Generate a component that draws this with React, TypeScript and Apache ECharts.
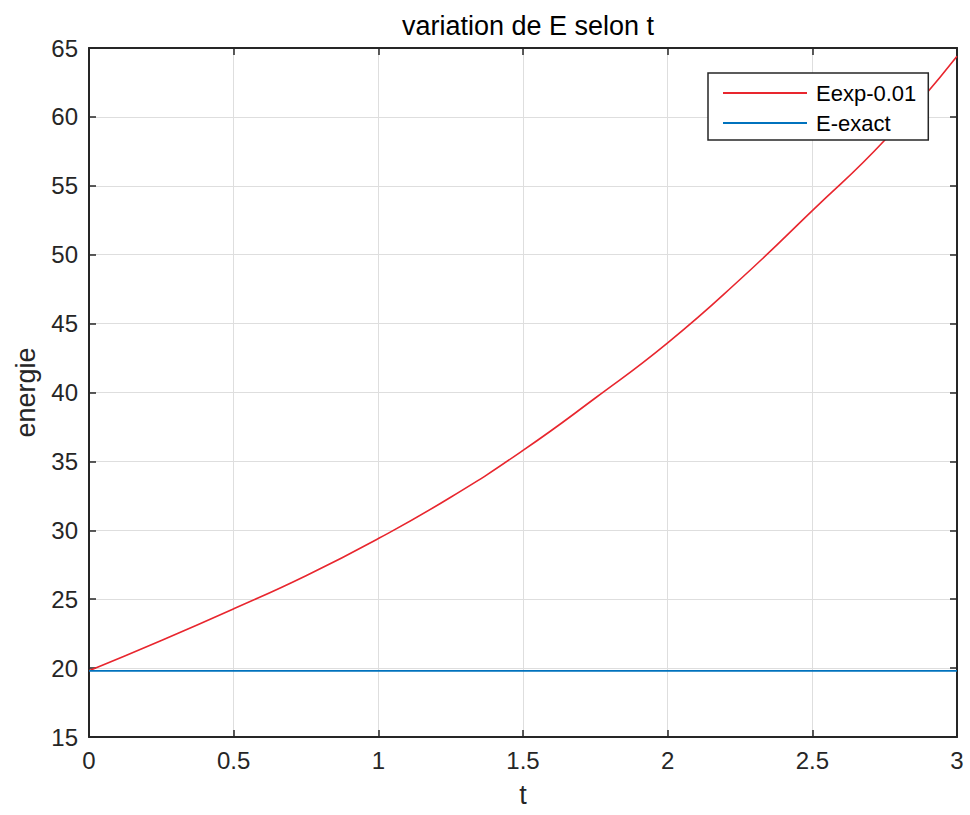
import React, { useEffect, useRef } from "react";
import * as echarts from "echarts";

const titleText = "variation de E selon t";
const xName = "t";
const yName = "energie";
const tValues = [0, 0.25, 0.5, 0.75, 1, 1.25, 1.5, 1.75, 2, 2.25, 2.5, 2.75, 3];
const eExp = [19.8, 22.0, 24.3, 26.7, 29.4, 32.4, 35.8, 39.6, 43.6, 48.2, 53.2, 58.3, 64.4];
const eExactT = [0, 3];
const eExact = [19.8, 19.8];
const seriesNames = ["Eexp-0.01", "E-exact"];

const FONT = "'Liberation Sans', Arial, Helvetica, sans-serif";
const AX = "#262626";

export default function App() {
  const ref = useRef<HTMLDivElement>(null);
  useEffect(() => {
    if (!ref.current) return;
    const chart = echarts.init(ref.current, null, { renderer: "svg" });
    const boxAxis = (extra: any) => ({
      type: "value",
      axisLine: { show: true, onZero: false, lineStyle: { color: AX, width: 2 } },
      axisTick: { show: true, inside: true, length: 7, lineStyle: { color: AX, width: 1.5 } },
      axisLabel: { show: false },
      splitLine: { show: false },
      ...extra,
    });
    chart.setOption({
      animation: false,
      backgroundColor: "#ffffff",
      textStyle: { fontFamily: FONT },
      title: {
        text: titleText,
        left: 523,
        top: 7,
        textAlign: "center",
        textStyle: { fontFamily: FONT, fontSize: 27, fontWeight: "normal", color: "#000" },
      },
      legend: {
        orient: "vertical",
        left: 708,
        top: 73,
        padding: [9, 12, 6, 15],
        itemGap: 8,
        itemWidth: 84,
        itemHeight: 2,
        icon: "rect",
        borderColor: AX,
        borderWidth: 1.5,
        backgroundColor: "#fff",
        textStyle: { fontFamily: FONT, fontSize: 22, color: "#000", padding: [0, 0, 0, 4] },
        data: seriesNames,
      },
      grid: { left: 89, right: 13, top: 48, bottom: 78, containLabel: false },
      xAxis: [
        {
          type: "value",
          min: 0,
          max: 3,
          interval: 0.5,
          name: xName,
          nameLocation: "middle",
          nameGap: 44,
          nameTextStyle: { fontFamily: FONT, fontSize: 27, color: AX },
          axisLine: { show: true, onZero: false, lineStyle: { color: AX, width: 2 } },
          axisTick: { show: true, inside: true, length: 7, lineStyle: { color: AX, width: 1.5 } },
          axisLabel: { fontFamily: FONT, fontSize: 24, color: AX, margin: 11 },
          splitLine: { show: true, lineStyle: { color: "#dedede", width: 1 } },
        },
        boxAxis({ position: "top", min: 0, max: 3, interval: 0.5 }),
      ],
      yAxis: [
        {
          type: "value",
          min: 15,
          max: 65,
          interval: 5,
          name: yName,
          nameLocation: "middle",
          nameGap: 50,
          nameTextStyle: { fontFamily: FONT, fontSize: 27, color: AX },
          axisLine: { show: true, onZero: false, lineStyle: { color: AX, width: 2 } },
          axisTick: { show: true, inside: true, length: 7, lineStyle: { color: AX, width: 1.5 } },
          axisLabel: { fontFamily: FONT, fontSize: 24, color: AX, margin: 11 },
          splitLine: { show: true, lineStyle: { color: "#dedede", width: 1 } },
        },
        boxAxis({ position: "right", min: 15, max: 65, interval: 5 }),
      ],
      series: [
        {
          name: seriesNames[0],
          type: "line",
          xAxisIndex: 0,
          yAxisIndex: 0,
          data: tValues.map((t, i) => [t, eExp[i]]),
          smooth: true,
          showSymbol: false,
          lineStyle: { color: "#e8262e", width: 1.6 },
          itemStyle: { color: "#e8262e" },
        },
        {
          name: seriesNames[1],
          type: "line",
          xAxisIndex: 0,
          yAxisIndex: 0,
          data: eExactT.map((t, i) => [t, eExact[i]]),
          showSymbol: false,
          lineStyle: { color: "#0072BD", width: 1.8 },
          itemStyle: { color: "#0072BD" },
        },
      ],
    });
    return () => chart.dispose();
  }, []);
  return (
    <div
      ref={ref}
      style={{ position: "absolute", left: 0, top: 0, width: 970, height: 815, background: "#fff" }}
    />
  );
}
